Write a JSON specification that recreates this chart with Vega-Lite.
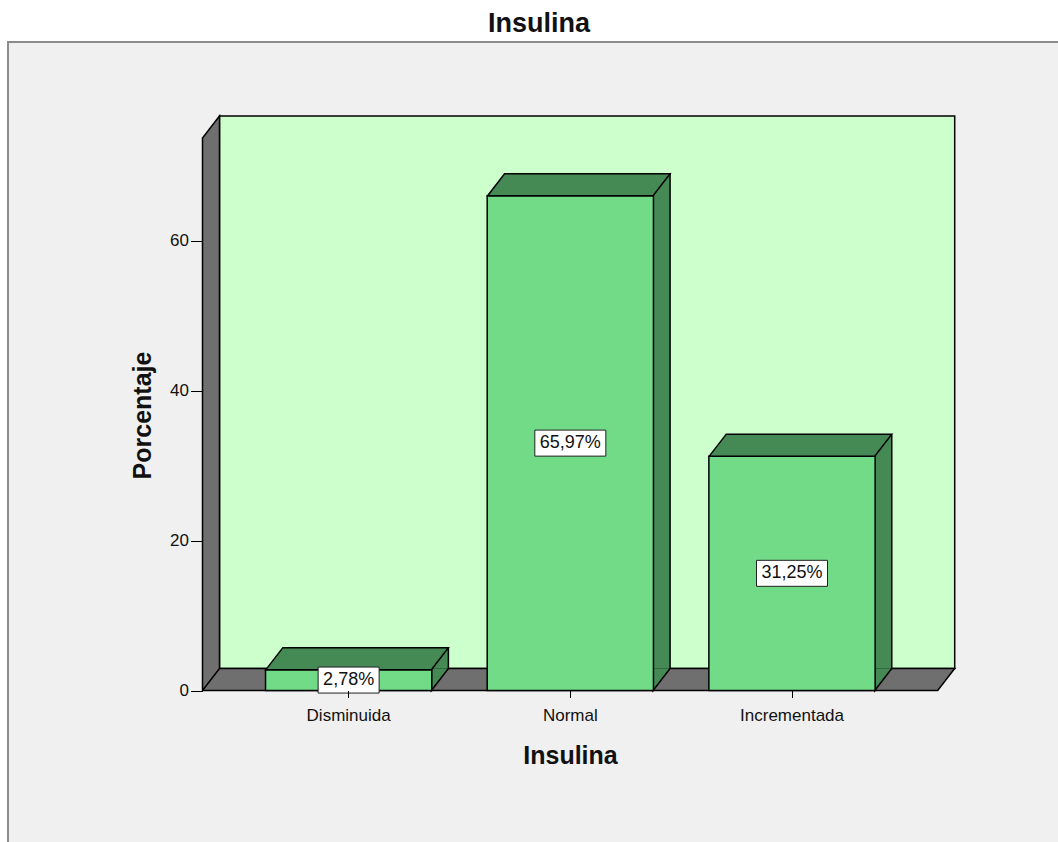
{
  "$schema": "https://vega.github.io/schema/vega-lite/v6.json",
  "width": 1053,
  "height": 803,
  "autosize": "none",
  "padding": {"left": 8, "top": 42, "right": -3, "bottom": -3},
  "background": "white",
  "config": {
    "view": {"fill": "#F0F0F0", "stroke": "#8C8C8C", "strokeWidth": 2},
    "font": "Liberation Sans"
  },
  "title": {"text": "Insulina", "fontSize": 27, "fontWeight": "bold", "font": "Liberation Sans", "color": "#111111", "anchor": "middle", "dx": 4.5, "offset": 4},
  "resolve": {"scale": {"x": "independent"}, "axis": {"y": "independent"}},
  "layer": [
    {
      "data": {"values": [{}]},
      "encoding": {
        "x": {"datum": 0, "type": "quantitative", "scale": {"domain": [-0.26455, 1.16771], "nice": false, "zero": false}, "axis": null},
        "y": {
          "datum": 0, "type": "quantitative",
          "scale": {"domain": [-20.6, 86.4667], "nice": false, "zero": false},
          "axis": {"title": "Porcentaje", "orient": "left", "values": [0, 20, 40, 60], "offset": -194.5, "domain": false, "grid": false, "ticks": true, "tickSize": 12, "tickColor": "#000000", "tickWidth": 1, "labelFont": "Liberation Sans", "labelFontSize": 17, "labelColor": "#111111", "labelPadding": 2, "titleFont": "Liberation Sans", "titleFontSize": 25, "titleFontWeight": "bold", "titleColor": "#111111", "titleY": 373, "titlePadding": 14, "zindex": 1}
        }
      },
      "layer": [
        {
          "mark": {"type": "rect", "fill": "#CCFFCC", "stroke": "#000000", "strokeWidth": 1.5, "xOffset": 17, "x2Offset": 17, "yOffset": -22, "y2Offset": -22},
          "encoding": {
            "x2": {"datum": 1},
            "y": {
              "datum": 73.67, "type": "quantitative",
              "scale": {"domain": [-20.6, 86.4667], "nice": false, "zero": false},
              "axis": {"title": "Porcentaje", "orient": "left", "values": [0, 20, 40, 60], "offset": -194.5, "domain": false, "grid": false, "ticks": true, "tickSize": 12, "tickColor": "#000000", "tickWidth": 1, "labelFont": "Liberation Sans", "labelFontSize": 17, "labelColor": "#111111", "labelPadding": 2, "titleFont": "Liberation Sans", "titleFontSize": 25, "titleFontWeight": "bold", "titleColor": "#111111", "titleY": 373, "titlePadding": 14, "zindex": 1}
            },
            "y2": {"datum": 0}
          }
        },
        {
          "mark": {"type": "point", "shape": "M0 0 L0 -552.5 L17 -574.5 L17 -22 L752.2 -22 L735.2 0 Z M0 0 L17 -22", "size": 4, "filled": true, "fill": "#6F6F6F", "stroke": "#000000", "strokeWidth": 1.5, "opacity": 1}
        }
      ]
    },
    {
      "data": {"values": [
        {"Insulina": "Disminuida", "pct": 2.78, "label": "2,78%"},
        {"Insulina": "Normal", "pct": 65.97, "label": "65,97%"},
        {"Insulina": "Incrementada", "pct": 31.25, "label": "31,25%"}
      ]},
      "encoding": {
        "x": {
          "field": "Insulina", "type": "nominal",
          "scale": {"domain": ["Disminuida", "Normal", "Incrementada"], "paddingInner": 0.25, "paddingOuter": 1.01005, "align": 0.5808},
          "axis": {"title": "Insulina", "orient": "bottom", "offset": -154.5, "domain": false, "grid": false, "ticks": true, "tickSize": 7, "tickColor": "#000000", "tickWidth": 1, "labelAngle": 0, "labelFont": "Liberation Sans", "labelFontSize": 17, "labelColor": "#111111", "labelPadding": 10, "titleFont": "Liberation Sans", "titleFontSize": 25, "titleFontWeight": "bold", "titleColor": "#111111", "titleX": 562, "titleY": 64.5, "titleBaseline": "middle", "titleAlign": "center", "zindex": 1}
        },
        "y": {
          "field": "pct", "type": "quantitative",
          "scale": {"domain": [-20.6, 86.4667], "nice": false, "zero": false},
          "axis": null
        }
      },
      "layer": [
        {
          "mark": {"type": "bar", "width": 17, "xOffset": 91.25, "yOffset": -22, "y2Offset": -22, "fill": "#458A55"},
          "encoding": {"y2": {"datum": 0}}
        },
        {
          "mark": {"type": "point", "shape": "M82.75 -22 L82.75 0 L99.75 -22", "size": 4, "filled": true, "fill": "#458A55", "stroke": "#000000", "strokeWidth": 1.5, "opacity": 1},
          "encoding": {"y": {"datum": 0, "type": "quantitative", "scale": {"domain": [-20.6, 86.4667], "nice": false, "zero": false}, "axis": null}}
        },
        {
          "mark": {"type": "rule", "xOffset": 99.75, "yOffset": -22, "y2Offset": -22, "stroke": "#000000", "strokeWidth": 1.5},
          "encoding": {"y2": {"datum": 0}}
        },
        {
          "mark": {"type": "bar", "fill": "#71DB88", "stroke": "#000000", "strokeWidth": 1.5}
        },
        {
          "mark": {"type": "point", "shape": "M-82.75 0 L82.75 0 L99.75 -22 L-65.75 -22 Z", "size": 4, "filled": true, "fill": "#458A55", "stroke": "#000000", "strokeWidth": 1.5, "opacity": 1}
        },
        {
          "mark": {"type": "point", "size": 4, "filled": true, "fill": "#FFFFFF", "stroke": "#222222", "strokeWidth": 1, "opacity": 1},
          "encoding": {
            "y": {"field": "pct", "type": "quantitative", "stack": "zero", "bandPosition": 0.5, "scale": {"domain": [-20.6, 86.4667], "nice": false, "zero": false}, "axis": null},
            "shape": {"field": "Insulina", "type": "nominal", "scale": {"domain": ["Disminuida", "Normal", "Incrementada"], "range": ["M-30.5 -13 L30.5 -13 L30.5 13 L-30.5 13 Z", "M-35.5 -13 L35.5 -13 L35.5 13 L-35.5 13 Z", "M-35.5 -13 L35.5 -13 L35.5 13 L-35.5 13 Z"]}, "legend": null}
          }
        },
        {
          "mark": {"type": "text", "font": "Liberation Sans", "fontSize": 18, "fill": "#111111", "baseline": "middle", "align": "center"},
          "encoding": {
            "y": {"field": "pct", "type": "quantitative", "stack": "zero", "bandPosition": 0.5, "scale": {"domain": [-20.6, 86.4667], "nice": false, "zero": false}, "axis": null},
            "text": {"field": "label"}
          }
        }
      ]
    }
  ]
}
